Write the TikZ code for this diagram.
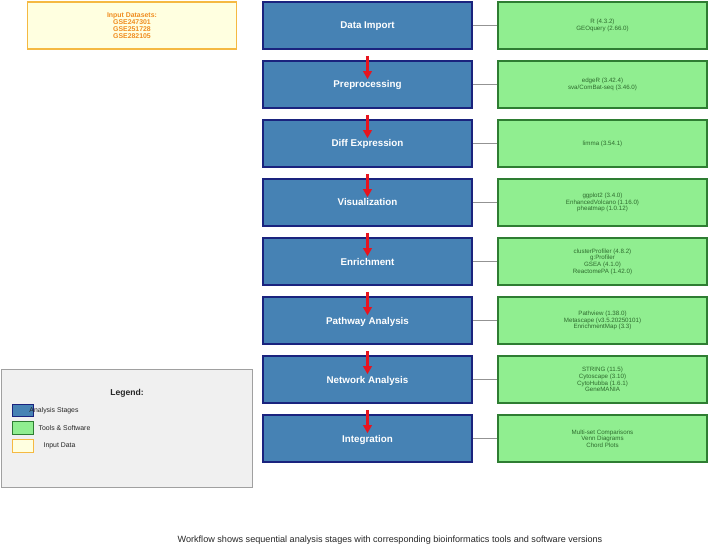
\documentclass[tikz,border=0pt]{standalone}
\usepackage{fontspec}
\setmainfont{Liberation Sans}
\usetikzlibrary{arrows.meta}
\definecolor{stagefill}{HTML}{4682B4}
\definecolor{stagedraw}{HTML}{1A237E}
\definecolor{toolfill}{HTML}{90EE90}
\definecolor{tooldraw}{HTML}{2E7D32}
\definecolor{tooltext}{HTML}{2E6B2E}
\definecolor{inputfill}{HTML}{FFFFE0}
\definecolor{inputdraw}{HTML}{F5B942}
\definecolor{inputtext}{HTML}{F08C1E}
\definecolor{legfill}{HTML}{F0F0F0}
\definecolor{legdraw}{HTML}{A0A0A0}
\definecolor{flowred}{HTML}{E8141E}
\tikzset{
  stagebox/.style={draw=stagedraw, fill=stagefill, line width=1.6pt, minimum width=209pt, minimum height=47pt, inner sep=0pt, text=white, text height=7pt, text depth=0pt, font=\fontsize{9.8}{11}\selectfont\bfseries},
  toolbox/.style={draw=tooldraw, fill=toolfill, line width=1.4pt, minimum width=209pt, minimum height=47pt, inner sep=0pt, align=center, text=tooltext, font=\fontsize{6.2}{6.6}\selectfont},
  inputbox/.style={draw=inputdraw, fill=inputfill, line width=1.4pt, minimum width=209pt, minimum height=47pt, inner sep=0pt, align=center, text=inputtext, font=\fontsize{6.9}{7}\selectfont\bfseries},
  link/.style={draw=gray!85, line width=1.2pt},
  flow/.style={draw=flowred, line width=2.2pt, -{Triangle[width=8.5pt,length=8pt]}},
  swatch/.style={line width=1pt, minimum width=21pt, minimum height=12.5pt, inner sep=0pt},
  legtext/.style={font=\fontsize{6.9}{8}\selectfont, text=black!85, inner sep=0pt},
}
\begin{document}
\begin{tikzpicture}[x=1pt,y=-1pt]
\useasboundingbox (0,0) rectangle (709,548);
% input
\node[inputbox] (in) at (132,25.5) {Input Datasets:\\GSE247301\\GSE251728\\GSE282105};
% stages
\foreach \i/\name/\txt in {1/s1/Data Import,2/s2/Preprocessing,3/s3/Diff Expression,4/s4/Visualization,5/s5/Enrichment,6/s6/Pathway Analysis,7/s7/Network Analysis,8/s8/Integration}{
  \node[stagebox] (\name) at (367.5,{25.5+59*(\i-1)}) {\txt};
}
\node[toolbox] (t1) at (602.5,25.5) {R (4.3.2)\\GEOquery (2.66.0)};
\node[toolbox] (t2) at (602.5,84.5) {edgeR (3.42.4)\\sva/ComBat-seq (3.46.0)};
\node[toolbox] (t3) at (602.5,143.5) {limma (3.54.1)};
\node[toolbox] (t4) at (602.5,202.5) {ggplot2 (3.4.0)\\EnhancedVolcano (1.16.0)\\pheatmap (1.0.12)};
\node[toolbox] (t5) at (602.5,261.5) {clusterProfiler (4.8.2)\\g:Profiler\\GSEA (4.1.0)\\ReactomePA (1.42.0)};
\node[toolbox] (t6) at (602.5,320.5) {Pathview (1.38.0)\\Metascape (v3.5.20250101)\\EnrichmentMap (3.3)};
\node[toolbox] (t7) at (602.5,379.5) {STRING (11.5)\\Cytoscape (3.10)\\CytoHubba (1.6.1)\\GeneMANIA};
\node[toolbox] (t8) at (602.5,438.5) {Multi-set Comparisons\\Venn Diagrams\\Chord Plots};
\foreach \i in {1,...,8}{
  \draw[link] (s\i.east) -- (t\i.west);
}
\foreach \i/\j in {1/2,2/3,3/4,4/5,5/6,6/7,7/8}{
  \draw[flow] ([yshift=-6pt]s\i.south) -- ([yshift=-19pt]s\j.north);
}
% legend
\node[draw=legdraw, fill=legfill, line width=1pt, minimum width=251pt, minimum height=118pt, inner sep=0pt] (leg) at (126.5,428) {};
\node[font=\fontsize{8.6}{10}\selectfont\bfseries, text=black!85] (legt) at (127,393) {Legend:};
\node[swatch, draw=stagedraw, fill=stagefill] (ls1) at (22.5,410.5) {};
\node[swatch, draw=tooldraw, fill=toolfill] (ls2) at (22.5,428) {};
\node[swatch, draw=inputdraw, fill=inputfill] (ls3) at (22.5,446) {};
\node[legtext] (lt1) at (54,411) {Analysis Stages};
\node[legtext] (lt2) at (64.5,428.5) {Tools \& Software};
\node[legtext] (lt3) at (59.5,446) {Input Data};
% caption
\node[font=\fontsize{9.1}{10}\selectfont, text=black!85] (cap) at (390,540) {Workflow shows sequential analysis stages with corresponding bioinformatics tools and software versions};
\end{tikzpicture}
\end{document}
